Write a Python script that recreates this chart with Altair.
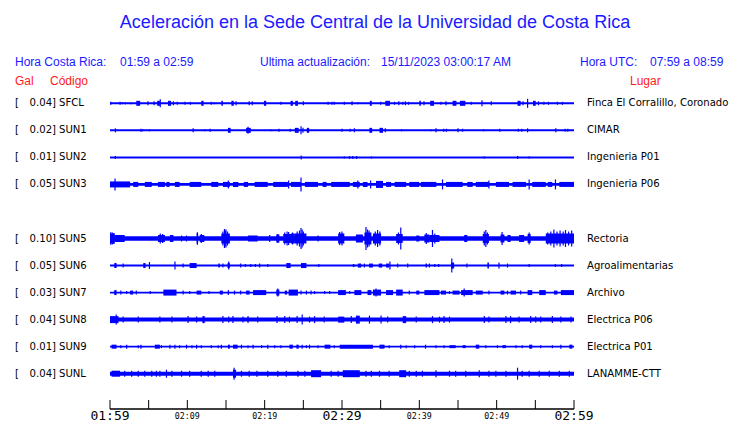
import altair as alt
import pandas as pd

# ---------------- data ----------------
STATIONS = ["SFCL", "SUN1", "SUN2", "SUN3", "SUN5", "SUN6", "SUN7", "SUN8", "SUN9", "SUNL"]
ROW_SLOT = [0, 1, 2, 3, 5, 6, 7, 8, 9, 10]          # SUN4 slot (4) is empty
PEAK_GAL = ["0.04", "0.02", "0.01", "0.05", "0.10", "0.05", "0.03", "0.04", "0.01", "0.04"]
PLACES = ["Finca El Corralillo, Coronado", "CIMAR", "Ingenieria P01", "Ingenieria P06",
          "Rectoria", "Agroalimentarias", "Archivo", "Electrica P06", "Electrica P01", "LANAMME-CTT"]
NOISE = [1.0, 1.0, 1.0, 1.3, 2.2, 1.0, 0.9, 2.0, 0.9, 2.0]   # background half-amplitude

# events: (start minute, end minute, half amplitude) ; minutes after 01:59
SFCL = [(0.1,0.1,1.5),(1.3,1.3,1.5),(1.6,1.6,1),(2.0,2.0,1),(2.7,2.7,1),(3.4,3.9,2.5),(4.9,4.9,2),(5.7,5.7,2),
        (6.1,6.45,2.5),(6.5,6.5,4),(7.5,7.9,2.5),(8.2,8.2,2),(8.7,8.7,1.5),(9.7,9.7,1.5),(10.4,10.4,1.5),
        (11.8,12.1,2.5),(13.1,13.1,1.5),(13.5,13.5,1),(14.4,14.6,2.5),(15.7,16.0,2.5),(16.3,16.3,2),(18.0,18.0,2),
        (18.4,18.4,2),(19.9,20.2,2.5),(22.1,22.1,1.5),(23.35,23.65,2.5),(23.95,24.3,2.5),(25.0,25.0,2),
        (28.2,28.2,1.5),(28.7,28.7,1.5),(29.0,29.0,1.5),(30.3,30.3,1.5),(31.3,31.3,2),(32.05,32.05,1),
        (33.6,33.85,2.5),(35.0,35.0,1.5),(35.6,36.2,2.5),(36.8,36.8,1.5),(37.35,37.35,2),(37.85,37.85,1.5),
        (38.2,38.2,2),(38.6,38.6,1.5),(40.0,40.2,2.5),(40.6,40.6,2),(41.4,41.9,2.5),(42.8,42.8,1.5),
        (43.45,43.45,2),(44.3,44.8,2.5),(45.25,45.95,2.5),(46.7,46.7,1.5),(48.1,48.1,3),(49.3,49.3,2),
        (52.7,53.1,2.5),(53.4,53.4,2),(54.0,54.0,4.5),(54.7,55.05,2.5),(55.4,55.4,2),(56.1,56.1,1.5),
        (56.7,56.7,1.5),(57.85,57.85,1.5),(58.5,58.5,1.5)]
SUN1 = [(0.7,0.7,2),(4.0,4.0,1.5),(4.2,4.2,1),(5.1,5.1,1),(10.75,10.75,2),(12.25,12.25,1),(12.95,12.95,1.5),
        (15.25,15.6,2.5),(17.6,18.2,2.5),(17.85,17.85,3.5),(20.8,20.8,1),(21.85,21.85,1.5),(23.3,23.3,1.5),
        (23.9,24.4,2.5),(24.7,24.7,4),(24.95,24.95,2.5),(25.45,25.75,2.5),(30.0,30.0,1.5),(31.05,31.05,1.5),
        (31.6,31.6,2),(33.55,33.9,2.5),(34.85,35.3,2.5),(35.6,35.6,2),(37.7,37.7,1),(41.5,41.5,1),
        (42.15,42.15,2),(43.15,43.15,1.5),(43.5,43.5,1.5),(45.0,45.0,2),(45.6,45.6,1.5),(48.3,48.3,1),
        (50.4,50.4,1.5),(52.8,52.8,1.5),(53.25,53.25,1.5),(54.0,54.0,2),(57.65,57.65,2),(58.85,58.85,1.5),
        (59.2,59.2,1.5)]
SUN2 = [(0.7,0.7,1.5),(24.65,24.8,2),(30.3,30.3,1),(31.0,31.0,1.5),(31.4,31.4,1.5),(31.9,31.9,1.5),
        (33.8,33.8,1),(48.4,48.4,1),(52.7,52.7,1.5),(54.2,54.2,1)]
SUN3 = [(0.0,2.6,3),(0.65,0.65,6),(3.0,3.65,2.5),(4.5,5.4,2.5),(6.2,7.1,2.5),(7.3,7.7,2.5),(8.4,9.0,2.5),
        (10.3,11.8,2.5),(13.1,14.0,2.5),(14.6,15.5,2.5),(15.3,15.3,4),(15.9,16.6,2.5),(17.3,17.85,2.5),
        (18.7,20.4,2.5),(21.1,23.0,2.5),(23.1,23.1,4),(23.4,24.7,2.5),(24.7,24.7,7),(25.2,26.9,2.5),
        (27.5,28.0,2.5),(28.6,31.0,2.5),(31.4,32.3,2.5),(32.05,32.05,4),(32.7,33.3,2.5),(33.7,33.7,4),
        (34.4,35.3,3.5),(35.7,36.35,2.5),(36.8,38.3,2.5),(38.7,40.0,2.5),(40.2,42.2,2.5),(43.0,43.0,5),
        (43.45,45.6,2.5),(46.2,46.9,2.5),(47.3,49.0,2.5),(49.0,49.0,4),(49.9,51.6,2.5),(52.05,53.8,2.5),
        (54.2,54.2,5),(54.6,56.35,2.5),(56.6,57.2,2.5),(57.6,57.6,5),(58.1,60.0,2.5)]
SUN5 = [(0.0,0.6,5),(0.1,0.1,6.3),(0.3,0.3,6),(0.5,0.5,5.5),(0.6,1.9,3.5),(6.2,7.1,3.5),(6.5,6.5,5),
        (6.8,6.8,4.5),(7.75,8.2,3.5),(9.25,9.25,3),(9.9,9.9,3),(11.2,11.4,5),(11.3,11.3,6.3),(11.6,12.2,3.5),
        (11.8,11.8,4.5),(14.4,15.5,5),(14.6,14.6,7),(14.8,14.8,9.5),(14.9,14.9,8),(15.0,15.0,9),(15.2,15.2,7),
        (17.85,19.1,3),(20.65,20.65,3.5),(21.5,21.9,4),(21.7,21.7,4.5),(22.4,23.4,4.5),(22.6,22.6,6),
        (22.9,22.9,7),(23.1,23.1,6.5),(23.4,23.9,5),(23.6,23.6,6),(23.9,25.4,5),(24.2,24.2,7),(24.5,24.5,8),
        (24.7,24.7,10.5),(24.85,24.85,9),(25.0,25.0,7),(26.9,26.9,3),(29.5,30.3,5),(29.7,29.7,6.5),
        (30.0,30.0,7),(31.8,32.7,4),(32.9,33.8,6),(33.1,33.1,11.5),(33.3,33.3,9),(33.5,33.5,8),
        (34.0,35.05,5),(34.3,34.3,7),(34.6,34.6,8.5),(34.9,34.9,7),(37.0,37.85,4.5),(37.3,37.3,6),
        (37.6,37.6,11),(39.6,40.0,3),(40.65,41.3,4),(40.9,40.9,5.5),(41.3,42.6,3.5),(41.7,41.7,8.5),
        (42.0,42.0,5),(45.8,46.2,3.5),(48.2,49.0,4.5),(48.4,48.4,7),(48.6,48.6,8.5),(48.8,48.8,6),
        (50.5,51.0,4),(50.7,50.7,6.5),(51.4,51.8,3.5),(52.9,53.55,3.5),(54.0,54.4,4.5),(54.2,54.2,6),
        (56.35,60.0,5),(56.6,56.6,6),(57.0,57.0,7),(57.4,57.4,9),(57.8,57.8,7),(58.2,58.2,8),(58.6,58.6,7),
        (58.9,58.9,8.5),(59.3,59.3,7),(59.7,59.7,8)]
SUN6 = [(0.55,0.85,2.5),(1.7,1.7,2),(4.3,4.6,2.5),(5.1,5.1,3.5),(8.4,8.4,4),(9.45,9.45,2),(10.3,11.2,2.5),
        (14.0,14.2,2),(14.6,14.6,2),(15.2,15.5,2.5),(15.35,15.35,4),(16.9,16.9,2),(17.5,17.5,1.5),
        (18.2,18.2,1.5),(18.8,18.8,1.5),(19.35,19.35,2),(20.4,20.4,1.5),(22.8,23.35,2.5),(24.7,25.4,2.5),
        (27.0,27.0,1.5),(31.4,31.6,1.5),(32.05,32.5,2),(32.9,32.9,2),(33.5,34.0,2),(34.75,35.2,2),
        (35.7,36.1,2),(36.2,36.2,4),(37.2,37.2,2),(38.5,38.5,2),(40.8,41.0,2),(41.3,41.3,2),(42.0,42.0,1.5),
        (42.5,42.5,1.5),(44.1,44.5,3),(44.2,44.2,7),(46.15,46.15,2),(48.8,49.0,3),(50.3,50.3,3),
        (51.4,51.4,2),(54.2,54.2,1.5),(57.6,57.6,1.5),(58.4,58.4,1.5)]
SUN7 = [(0.55,0.85,2.5),(1.4,1.4,2),(2.15,2.15,1.5),(2.6,3.0,2),(3.4,3.4,2),(5.2,5.2,1.5),(6.9,8.6,3),
        (9.45,9.45,2),(10.3,10.3,1.5),(11.2,11.8,2),(12.8,12.8,1.5),(14.2,14.6,2),(15.3,15.3,2.5),
        (16.1,16.1,2),(16.9,16.9,2),(17.6,18.05,2),(18.5,20.2,2.5),(21.5,21.9,3),(21.7,21.7,4),(22.6,22.9,2),
        (23.1,24.3,3),(24.7,24.7,2),(25.4,25.4,2),(26.0,26.0,2),(26.45,26.45,1.5),(27.75,27.75,1.5),
        (28.4,28.4,1.5),(29.5,30.5,2.5),(31.0,31.0,1.5),(31.6,32.5,2.5),(33.3,33.8,2.5),(34.0,35.05,3),
        (34.4,34.4,4),(35.7,36.6,2.5),(37.0,37.85,3),(38.7,38.7,2),(39.6,40.0,2),(40.65,42.6,2.5),
        (42.8,43.45,2),(43.9,43.9,1.5),(44.3,45.2,2),(45.4,46.9,2.5),(45.8,45.8,4),(47.3,48.2,2),
        (49.0,49.0,2),(50.5,51.0,2),(51.4,51.4,2),(51.8,52.5,2),(53.1,53.1,2),(54.0,54.6,2.5),
        (55.5,56.35,2.5),(57.4,57.85,2),(58.3,60.0,2.5)]
SUN8 = [(0.0,1.1,3.5),(0.8,0.8,5),(1.7,1.7,3),(3.65,3.65,3),(6.45,6.45,3),(8.0,8.0,3),(10.1,10.1,3.5),
        (11.2,11.2,3),(11.95,12.25,3.5),(14.6,14.6,3.5),(15.35,15.35,3),(15.9,15.9,3.5),(17.2,17.2,3),
        (17.85,17.85,3.5),(19.1,19.1,3),(21.6,21.6,3.5),(22.6,22.6,3.5),(23.2,23.2,3),(24.2,24.2,3.5),
        (24.85,24.85,5),(25.8,25.8,3),(26.45,26.45,3.5),(27.7,27.7,3),(29.5,30.3,3),(31.2,31.2,3.5),
        (31.8,32.3,4),(33.55,33.55,4),(35.05,35.05,4),(35.9,35.9,3),(37.85,38.3,3.5),(39.6,39.6,3),
        (41.7,41.7,3.5),(42.6,42.6,3),(43.2,43.2,3.5),(43.9,43.9,3),(48.4,48.4,3.5),(49.0,49.0,3),
        (51.2,51.2,3.5),(51.8,51.8,3.5),(52.9,52.9,3),(54.4,54.4,3.5),(55.05,55.05,3),(55.7,55.7,3),
        (57.2,57.2,3.5),(58.3,58.3,3),(59.6,59.6,3)]
SUN9 = [(0.2,0.85,2),(1.4,1.4,1.5),(2.15,2.15,2),(3.65,3.65,1.5),(4.0,4.0,2),(5.8,6.45,2),(6.65,6.65,1.5),
        (7.75,7.75,2),(8.4,8.4,2),(9.0,9.0,1.5),(9.9,9.9,2),(10.6,10.6,1.5),(11.2,11.2,2),(11.8,11.8,1.5),
        (13.1,13.1,1.5),(14.0,14.0,1.5),(14.4,14.4,2),(15.25,15.5,2),(15.9,16.5,2),(17.0,17.0,2),
        (17.85,17.85,1.5),(18.5,18.5,2),(19.6,19.6,1.5),(20.4,20.4,2),(21.3,21.3,1.5),(22.1,22.1,1.5),
        (23.2,23.65,2),(24.1,24.4,2),(24.85,24.85,2),(25.4,25.4,1.5),(25.8,25.8,2),(26.9,26.9,1.5),
        (27.75,28.5,2),(29.0,29.0,1.5),(29.7,34.0,2),(34.85,35.5,2),(36.1,36.1,1.5),(37.6,37.6,2),
        (38.3,38.3,1.5),(39.4,39.4,1.5),(40.8,40.8,2),(42.15,42.15,1.5),(43.2,43.2,1.5),(43.9,44.7,1.5),
        (45.6,46.0,1.5),(47.3,47.75,2),(48.6,48.6,1.5),(50.1,50.1,1.5),(50.75,51.2,1.5),(52.5,52.5,1.5),
        (53.3,53.3,1.5),(54.2,54.6,2),(55.7,55.7,1.5),(57.2,57.2,1.5),(58.3,58.3,2),(59.4,59.8,2)]
SUNL = [(0.2,1.3,3),(1.9,1.9,3),(2.8,2.8,3),(3.65,3.65,3),(4.5,4.5,3),(5.4,5.4,3),(6.0,6.0,3),(6.45,6.45,3),
        (7.3,7.3,4),(8.0,8.0,3),(9.25,9.25,3),(10.3,10.3,3),(11.8,11.8,3),(12.7,12.7,3),(13.55,13.55,3),
        (15.9,16.3,4),(16.05,16.05,6),(17.0,17.0,3),(18.0,18.0,3),(19.0,19.0,3),(20.4,20.4,3),(21.7,21.7,3),
        (22.8,22.8,3),(24.3,24.3,3),(25.2,25.2,3),(26.0,27.3,3.5),(28.6,28.6,3),(29.5,29.5,3),
        (30.1,32.3,3.5),(33.1,33.1,3),(33.8,33.8,3),(34.85,34.85,3),(36.1,36.1,3),(37.4,38.3,3.5),
        (38.7,38.7,3),(39.6,39.6,3),(40.4,40.4,3),(42.15,42.15,3.5),(43.9,43.9,3),(44.7,44.7,3),
        (46.0,46.0,3),(47.75,47.75,3.5),(49.0,49.0,3),(49.9,49.9,3),(51.2,51.2,3),(52.7,52.7,6),
        (53.3,53.3,3),(54.2,54.2,3),(55.5,55.5,3),(56.8,56.8,3),(58.1,58.1,3),(59.4,59.4,3)]
EVENTS = [SFCL, SUN1, SUN2, SUN3, SUN5, SUN6, SUN7, SUN8, SUN9, SUNL]

TICK_MIN = [0, 5, 10, 15, 20, 25, 30, 35, 40, 45, 50, 55, 60]
BIG_LABEL_MIN = [0, 30, 60]
BIG_LABELS = ["01:59", "02:29", "02:59"]
SMALL_LABEL_MIN = [10, 20, 40, 50]
SMALL_LABELS = ["02:09", "02:19", "02:39", "02:49"]

# ---------------- layout helpers ----------------
W, H = 464, 321
ROW0, ROWSTEP = 15.3, 27.04      # row centre placement within the plot (pixel-like y units)
BLUE = "#0000ff"
TBLUE = "#1a1aff"
RED = "#ff1a1a"
LBL_FONT = "DejaVu Sans"
LBL_SIZE = 10.1

xs = alt.Scale(domain=[0, 60], range=[0, W], nice=False, zero=False)
ys = alt.Scale(domain=[0, H], range=[0, H], nice=False, zero=False)

rows = []
for st, slot, gal, place, noise in zip(STATIONS, ROW_SLOT, PEAK_GAL, PLACES, NOISE):
    c = ROW0 + ROWSTEP * slot
    rows.append(dict(station=st, c=c, gal=gal + "]", place=place, t0=0, t1=60, lo=c - noise, hi=c + noise))
rows_df = pd.DataFrame(rows)

blocks, spikes = [], []
for st, slot, ev in zip(STATIONS, ROW_SLOT, EVENTS):
    c = ROW0 + ROWSTEP * slot
    for t0, t1, a in ev:
        rec = dict(station=st, t0=t0, t1=t1, lo=c - a, hi=c + a)
        (spikes if t1 == t0 else blocks).append(rec)
blocks_df = pd.DataFrame(blocks)
spikes_df = pd.DataFrame(spikes)

X = lambda f: alt.X(f, type="quantitative", scale=xs, axis=None)
Y = lambda f: alt.Y(f, type="quantitative", scale=ys, axis=None)

base_band = alt.Chart(rows_df).mark_rect(color=BLUE).encode(
    x=X("t0"), x2="t1", y=Y("lo"), y2="hi")
block_layer = alt.Chart(blocks_df).mark_rect(color=BLUE).encode(
    x=X("t0"), x2="t1", y=Y("lo"), y2="hi")
spike_layer = alt.Chart(spikes_df).mark_rule(color=BLUE, strokeWidth=1.2).encode(
    x=X("t0"), y=Y("lo"), y2="hi")


def row_text(field_or_value, x, align):
    enc_text = alt.value(field_or_value[1:]) if field_or_value.startswith("=") else alt.Text(field_or_value, type="nominal")
    return alt.Chart(rows_df).mark_text(align=align, baseline="middle", font=LBL_FONT, fontSize=LBL_SIZE,
                                        color="black").encode(y=Y("c"), x=alt.value(x), text=enc_text)


left_br = row_text("=[", -95, "left")
left_gal = row_text("gal", -54, "right")
left_code = row_text("station", -51, "left")
right_place = row_text("place", 477, "left")

# time axis
axis_df = pd.DataFrame({"t0": [0], "t1": [60]})
axis_line = alt.Chart(axis_df).mark_rule(color="black", strokeWidth=1.5).encode(
    x=X("t0"), x2="t1", y=alt.value(H))
ticks = alt.Chart(pd.DataFrame({"t": TICK_MIN})).mark_rule(color="black", strokeWidth=1).encode(
    x=X("t"), y=alt.value(H - 9), y2=alt.value(H))
big_lbl = alt.Chart(pd.DataFrame({"t": BIG_LABEL_MIN, "l": BIG_LABELS})).mark_text(
    font="DejaVu Sans Mono", fontSize=13, baseline="middle", align="center", color="black").encode(
    x=X("t"), y=alt.value(H + 7), text="l:N")
small_lbl = alt.Chart(pd.DataFrame({"t": SMALL_LABEL_MIN, "l": SMALL_LABELS})).mark_text(
    font="DejaVu Sans Mono", fontSize=8.3, baseline="middle", align="center", color="black").encode(
    x=X("t"), y=alt.value(H + 7.5), text="l:N")


def txt(s, x, y, size=12, color=TBLUE, align="left"):
    return alt.Chart(pd.DataFrame({"s": [s]})).mark_text(
        font="Liberation Sans", fontSize=size, color=color, align=align, baseline="middle").encode(
        x=alt.value(x), y=alt.value(y), text="s:N")


headers = [
    txt("Aceleración en la Sede Central de la Universidad de Costa Rica", 265, -65, size=18, align="center"),
    txt("Hora Costa Rica:", -95, -26),
    txt("01:59 a 02:59", 10, -26),
    txt("Ultima actualización:", 150, -26),
    txt("15/11/2023 03:00:17 AM", 271, -26),
    txt("Hora UTC:", 470, -26),
    txt("07:59 a 08:59", 540, -26),
    txt("Gal", -95, -7, color=RED),
    txt("Código", -60, -7, color=RED),
    txt("Lugar", 520, -7, color=RED),
]

chart = alt.layer(
    base_band, block_layer, spike_layer,
    left_br, left_gal, left_code, right_place,
    axis_line, ticks, big_lbl, small_lbl,
    *headers,
).properties(
    width=W, height=H,
    autosize=alt.AutoSizeParams(type="none"),
    padding={"left": 102, "top": 80, "right": 158, "bottom": 14},
    background="white",
).configure_view(stroke=None)

chart.save("out.html", embed_options={"renderer": "svg", "actions": False})
